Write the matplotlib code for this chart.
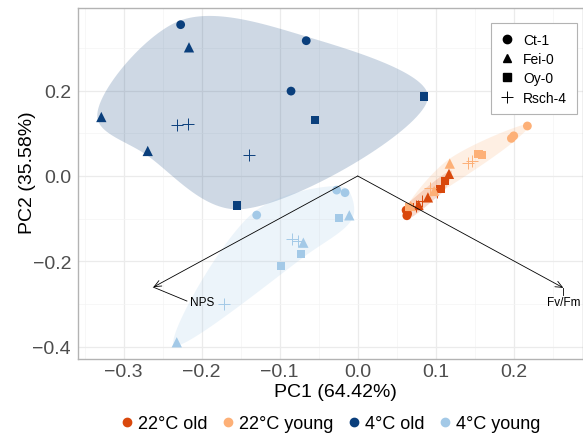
import numpy as np
import matplotlib
matplotlib.use("Agg")
import matplotlib.pyplot as plt
from matplotlib.lines import Line2D

plt.rcParams['font.family'] = ['Liberation Sans', 'DejaVu Sans']

# ---------------- data ----------------
groups = ["22°C old", "22°C young", "4°C old", "4°C young"]
colors = ["#d9480c", "#fdb077", "#0a3f7c", "#a3c9e7"]
genotypes = ["Ct-1", "Fei-0", "Oy-0", "Rsch-4"]

# PC1 / PC2 scores per group, per genotype (3 replicates each)
old22_x = {"Ct-1": [0.062, 0.064, 0.063], "Fei-0": [0.117, 0.090, 0.078],
           "Oy-0": [0.112, 0.106, 0.067], "Rsch-4": [0.083, 0.075, 0.101]}
old22_y = {"Ct-1": [-0.080, -0.088, -0.093], "Fei-0": [0.005, -0.050, -0.068],
           "Oy-0": [-0.012, -0.030, -0.072], "Rsch-4": [-0.058, -0.070, -0.038]}
young22_x = {"Ct-1": [0.2175, 0.200, 0.197], "Fei-0": [0.118, 0.068, 0.098],
             "Oy-0": [0.159, 0.155, 0.066], "Rsch-4": [0.146, 0.141, 0.093]}
young22_y = {"Ct-1": [0.117, 0.094, 0.088], "Fei-0": [0.029, -0.070, -0.035],
             "Oy-0": [0.049, 0.051, -0.073], "Rsch-4": [0.035, 0.031, -0.028]}
old4_x = {"Ct-1": [-0.227, -0.066, -0.0855], "Fei-0": [-0.2163, -0.3287, -0.2692],
          "Oy-0": [-0.0547, 0.085, -0.1547], "Rsch-4": [-0.232, -0.217, -0.139]}
old4_y = {"Ct-1": [0.354, 0.3165, 0.1986], "Fei-0": [0.301, 0.138, 0.0586],
          "Oy-0": [0.1306, 0.186, -0.0687], "Rsch-4": [0.119, 0.121, 0.049]}
young4_x = {"Ct-1": [-0.027, -0.0163, -0.1295], "Fei-0": [-0.0108, -0.0697, -0.232],
            "Oy-0": [-0.0236, -0.0723, -0.0987], "Rsch-4": [-0.0838, -0.076, -0.171]}
young4_y = {"Ct-1": [-0.033, -0.039, -0.0914], "Fei-0": [-0.092, -0.156, -0.389],
            "Oy-0": [-0.099, -0.182, -0.211], "Rsch-4": [-0.148, -0.152, -0.300]}

group_x = [old22_x, young22_x, old4_x, young4_x]
group_y = [old22_y, young22_y, old4_y, young4_y]

# loadings (biplot arrows)
load_names = ["NPS", "Fv/Fm"]
load_x = [-0.262, 0.2636]
load_y = [-0.260, -0.2617]
label_x = [-0.199, 0.2636]
label_y = [-0.2945, -0.2954]

x_ticks = [-0.3, -0.2, -0.1, 0.0, 0.1, 0.2]
y_ticks = [-0.4, -0.2, 0.0, 0.2]

# ---------------- figure ----------------
W, H = 583, 439
fig = plt.figure(figsize=(W / 100, H / 100), dpi=100)
ax = fig.add_axes([78 / W, 1 - 360 / H, 505 / W, 351 / H])
ax.set_xlim(-0.3586, 0.2888)
ax.set_ylim(-0.4281, 0.393)

ax.set_xticks(x_ticks)
ax.set_xticklabels(["−0.3", "−0.2", "−0.1", "0.0", "0.1", "0.2"])
ax.set_yticks(y_ticks)
ax.set_yticklabels(["−0.4", "−0.2", "0.0", "0.2"])
ax.set_xticks(np.arange(-0.35, 0.29, 0.1), minor=True)
ax.set_yticks([-0.3, -0.1, 0.1, 0.3], minor=True)
ax.grid(True, which='major', color='#ebebeb', lw=0.9, zorder=0)
ax.grid(True, which='minor', color='#f4f4f4', lw=0.5, zorder=0)
ax.set_axisbelow(True)
ax.tick_params(which='both', length=0)
ax.tick_params(axis='x', labelsize=14, labelcolor='#4d4d4d', pad=3)
ax.tick_params(axis='y', labelsize=14, labelcolor='#4d4d4d', pad=5)
for s in ax.spines.values():
    s.set_color('#b3b3b3')
    s.set_linewidth(1.0)


def convex_hull(pts):
    pts = sorted(set(map(tuple, pts)))
    if len(pts) <= 2:
        return np.array(pts)

    def cross(o, a, b):
        return (a[0] - o[0]) * (b[1] - o[1]) - (a[1] - o[1]) * (b[0] - o[0])
    lower, upper = [], []
    for p in pts:
        while len(lower) >= 2 and cross(lower[-2], lower[-1], p) <= 0:
            lower.pop()
        lower.append(p)
    for p in reversed(pts):
        while len(upper) >= 2 and cross(upper[-2], upper[-1], p) <= 0:
            upper.pop()
        upper.append(p)
    return np.array(lower[:-1] + upper[:-1])


def catmull_closed(P, n=40, alpha=0.5):
    N = len(P)
    out = []
    for i in range(N):
        p0, p1, p2, p3 = P[i - 1], P[i], P[(i + 1) % N], P[(i + 2) % N]
        t0 = 0.0
        t1 = t0 + np.linalg.norm(p1 - p0) ** alpha
        t2 = t1 + np.linalg.norm(p2 - p1) ** alpha
        t3 = t2 + np.linalg.norm(p3 - p2) ** alpha
        t = np.linspace(t1, t2, n, endpoint=False)[:, None]
        A1 = (t1 - t) / (t1 - t0) * p0 + (t - t0) / (t1 - t0) * p1
        A2 = (t2 - t) / (t2 - t1) * p1 + (t - t1) / (t2 - t1) * p2
        A3 = (t3 - t) / (t3 - t2) * p2 + (t - t2) / (t3 - t2) * p3
        B1 = (t2 - t) / (t2 - t0) * A1 + (t - t0) / (t2 - t0) * A2
        B2 = (t3 - t) / (t3 - t1) * A2 + (t - t1) / (t3 - t1) * A3
        C = (t2 - t) / (t2 - t1) * B1 + (t - t1) / (t2 - t1) * B2
        out.append(C)
    return np.vstack(out)


def encircle(xs, ys, color, r=4.0):
    disp = ax.transData.transform(np.column_stack([xs, ys]))
    hull = convex_hull(disp)
    N = len(hull)
    exp = []
    for i in range(N):
        a, b, c = hull[i - 1], hull[i], hull[(i + 1) % N]
        e1 = b - a
        e2 = c - b
        n1 = np.array([e1[1], -e1[0]]) / np.linalg.norm(e1)
        n2 = np.array([e2[1], -e2[0]]) / np.linalg.norm(e2)
        nv = n1 + n2
        nv = nv / np.linalg.norm(nv)
        exp.append(b + r * nv)
    exp = np.array(exp)
    curve = catmull_closed(exp)
    dat = ax.transData.inverted().transform(curve)
    ax.fill(dat[:, 0], dat[:, 1], color=color, alpha=0.2, lw=0, zorder=1)


for gi in range(4):
    xs = np.concatenate([group_x[gi][g] for g in genotypes])
    ys = np.concatenate([group_y[gi][g] for g in genotypes])
    encircle(xs, ys, colors[gi])

marker_kw = {"Ct-1": dict(marker='o', s=40),
             "Fei-0": dict(marker='^', s=55),
             "Oy-0": dict(marker='s', s=36),
             "Rsch-4": dict(marker='+', s=85, linewidths=0.7)}

for gi in range(4):
    for g in genotypes:
        kw = marker_kw[g]
        ax.scatter(group_x[gi][g], group_y[gi][g], color=colors[gi],
                   edgecolors='none' if g != "Rsch-4" else None,
                   zorder=3, **kw)

# loadings arrows
for i in range(2):
    ax.annotate("", xy=(load_x[i], load_y[i]), xytext=(0, 0),
                arrowprops=dict(arrowstyle='->,head_length=0.5,head_width=0.22',
                                color='black', lw=0.6, shrinkA=0, shrinkB=0),
                zorder=4)
    ax.text(label_x[i], label_y[i], load_names[i], fontsize=8.5, ha='center',
            va='center', color='black', zorder=5)
# leader segments from arrow tips to labels
ax.plot([load_x[0], label_x[0] - 0.02], [load_y[0], label_y[0] + 0.002],
        color='black', lw=0.6, zorder=4)
ax.plot([load_x[1], label_x[1]], [load_y[1], label_y[1] + 0.016],
        color='black', lw=0.6, zorder=4)

# axis titles
fig.text(335.7 / W, 1 - 397.3 / H, "PC1 (64.42%)", fontsize=14, ha='center',
         va='baseline')
fig.text(32.5 / W, 1 - 172.5 / H, "PC2 (35.58%)", fontsize=14, ha='center',
         va='baseline', rotation=90, rotation_mode='anchor')

# shape legend (inside)
shape_handles = [
    Line2D([], [], marker='o', ls='none', color='black', markersize=6),
    Line2D([], [], marker='^', ls='none', color='black', markersize=6),
    Line2D([], [], marker='s', ls='none', color='black', markersize=5.6),
    Line2D([], [], marker='+', ls='none', color='black', markersize=8.5, mew=0.7),
]
leg = ax.legend(shape_handles, genotypes, loc='upper right',
                bbox_to_anchor=((577 - 78) / 505, (360 - 24) / 351),
                fontsize=10, frameon=True, fancybox=False, framealpha=1,
                edgecolor='#b3b3b3', handlelength=0.8, handletextpad=0.8,
                labelspacing=0.38, borderpad=0.7, borderaxespad=0)
leg.get_frame().set_linewidth(0.8)

# colour legend (bottom)
col_handles = [Line2D([], [], marker='o', ls='none', color=c, markersize=6)
               for c in colors]
fig.legend(col_handles, groups, loc='center', bbox_to_anchor=(331 / W, 1 - 425 / H),
           ncol=4, fontsize=13, frameon=False, handlelength=0.6,
           handletextpad=0.35, columnspacing=0.8, borderaxespad=0)

fig.savefig("out.png", dpi=100)
